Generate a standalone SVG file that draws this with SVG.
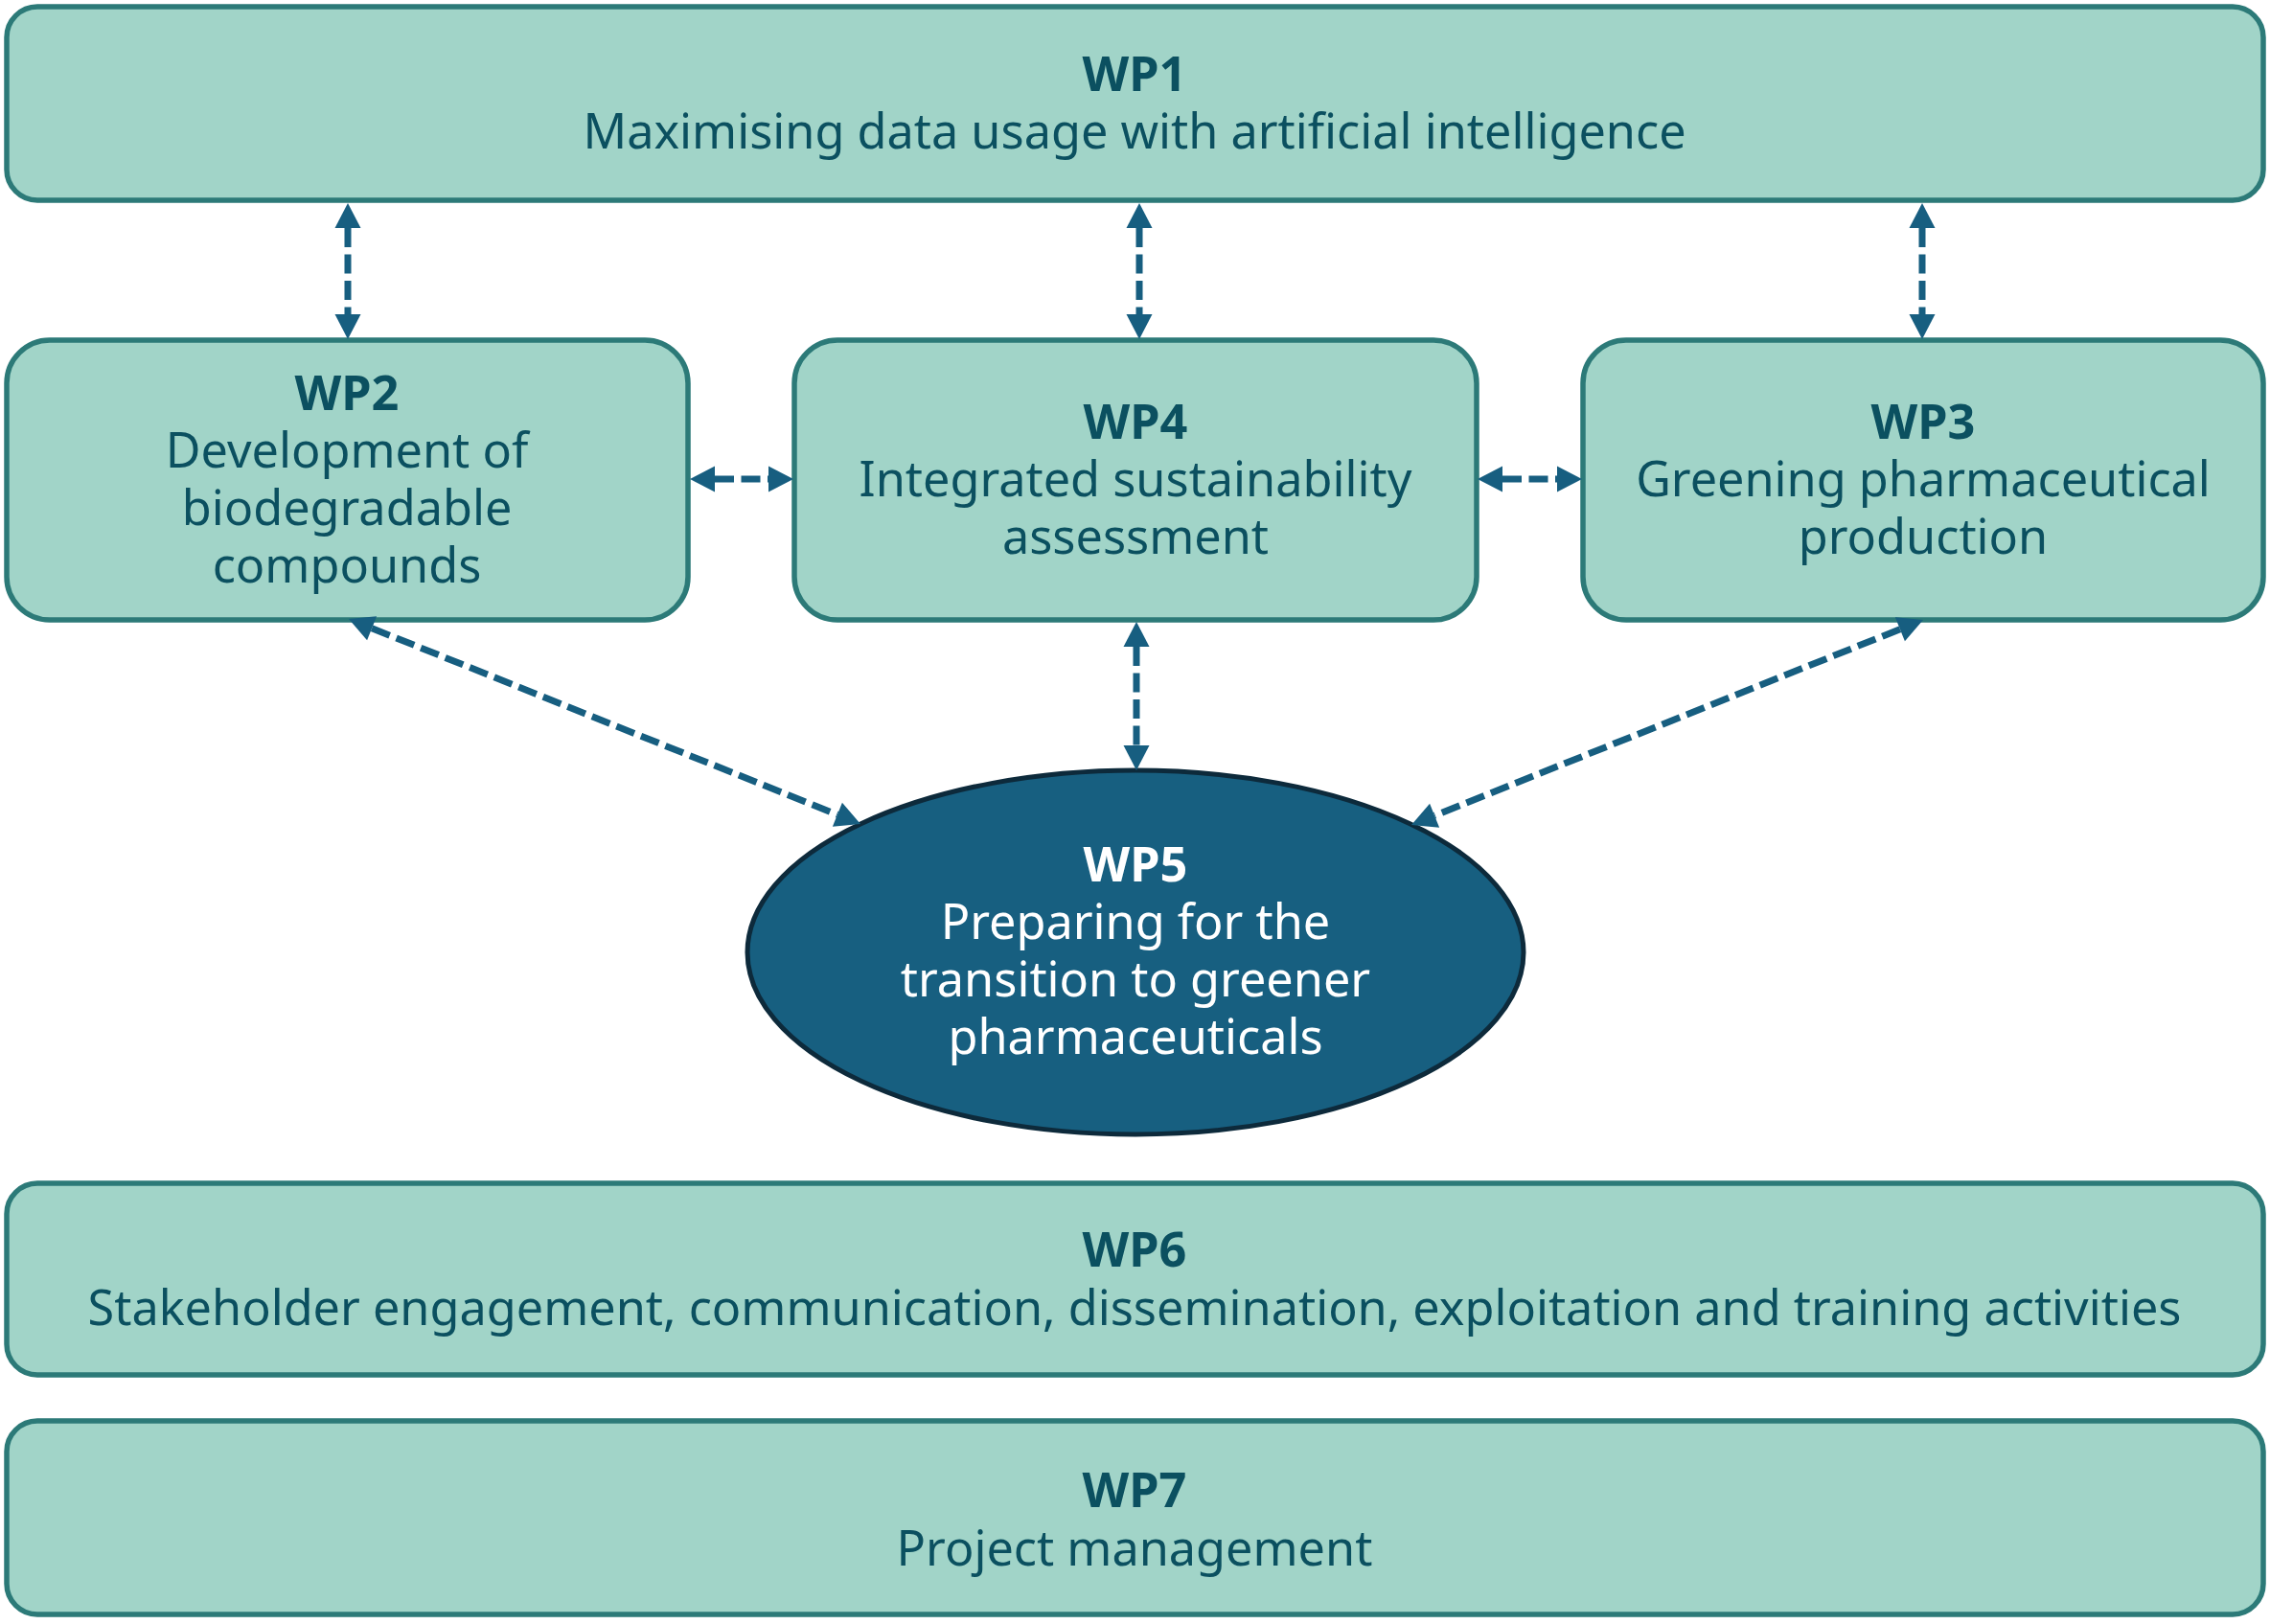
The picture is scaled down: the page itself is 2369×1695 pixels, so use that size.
<svg xmlns="http://www.w3.org/2000/svg" width="2369" height="1695" viewBox="0 0 2369 1695">
<style>
.box{fill:#a1d4c8;stroke:#2c7a78;stroke-width:5.5}
.t{font-family:"Noto Sans","Open Sans",sans-serif;font-size:50.4px;fill:#0b5060;text-anchor:middle}
.b{font-weight:bold}
.w{fill:#ffffff}
.c{fill:none;stroke:#175e80;stroke-width:7;stroke-dasharray:20 7.5;marker-start:url(#ah);marker-end:url(#ah)}
</style>
<defs>
<marker id="ah" markerUnits="userSpaceOnUse" markerWidth="27" markerHeight="27" refX="0" refY="13.5" orient="auto-start-reverse" overflow="visible">
<path d="M0,0 L26,13.5 L0,27 Z" fill="#175e80"/>
</marker>
</defs>
<rect width="2369" height="1695" fill="#ffffff"/>
<g id="WP1"><rect class="box" x="7" y="7" width="2355" height="202" rx="32"/>
<text class="t"><tspan class="b" x="1184" y="95">WP1</tspan><tspan x="1184" y="155">Maximising data usage with artificial intelligence</tspan></text></g>
<g id="WP2"><rect class="box" x="7" y="355" width="711" height="292" rx="45"/>
<text class="t"><tspan class="b" x="362" y="428">WP2</tspan><tspan x="362" y="488">Development of</tspan><tspan x="362" y="548">biodegradable</tspan><tspan x="362" y="608">compounds</tspan></text></g>
<g id="WP4"><rect class="box" x="829" y="355" width="712" height="292" rx="45"/>
<text class="t"><tspan class="b" x="1185" y="458">WP4</tspan><tspan x="1185" y="518">Integrated sustainability</tspan><tspan x="1185" y="578">assessment</tspan></text></g>
<g id="WP3"><rect class="box" x="1652" y="355" width="710" height="292" rx="45"/>
<text class="t"><tspan class="b" x="2007" y="458">WP3</tspan><tspan x="2007" y="518">Greening pharmaceutical</tspan><tspan x="2007" y="578">production</tspan></text></g>
<g id="WP5"><ellipse cx="1185" cy="994" rx="405" ry="190" fill="#175f80" stroke="#0d2a3b" stroke-width="5"/>
<text class="t w"><tspan class="b" x="1185" y="920">WP5</tspan><tspan x="1185" y="980">Preparing for the</tspan><tspan x="1185" y="1040">transition to greener</tspan><tspan x="1185" y="1100">pharmaceuticals</tspan></text></g>
<g id="WP6"><rect class="box" x="7" y="1235" width="2355" height="200" rx="32"/>
<text class="t"><tspan class="b" x="1184" y="1322">WP6</tspan><tspan x="1184" y="1383">Stakeholder engagement, communication, dissemination, exploitation and training activities</tspan></text></g>
<g id="WP7"><rect class="box" x="7" y="1483" width="2355" height="202" rx="32"/>
<text class="t"><tspan class="b" x="1184" y="1573">WP7</tspan><tspan x="1184" y="1634">Project management</tspan></text></g>
<g id="connectors">
<path class="c" d="M363,238 L363,328"/>
<path class="c" d="M1189,238 L1189,328"/>
<path class="c" d="M2006,238 L2006,328"/>
<path class="c" d="M746,500 L802,500"/>
<path class="c" d="M1568,500 L1625,500"/>
<path class="c" d="M1186,675 L1186,778"/>
<path class="c" d="M388.1,655.7 L873.9,850.3"/>
<path class="c" d="M1982.9,656.7 L1497.1,851.3"/>
</g>
</svg>
